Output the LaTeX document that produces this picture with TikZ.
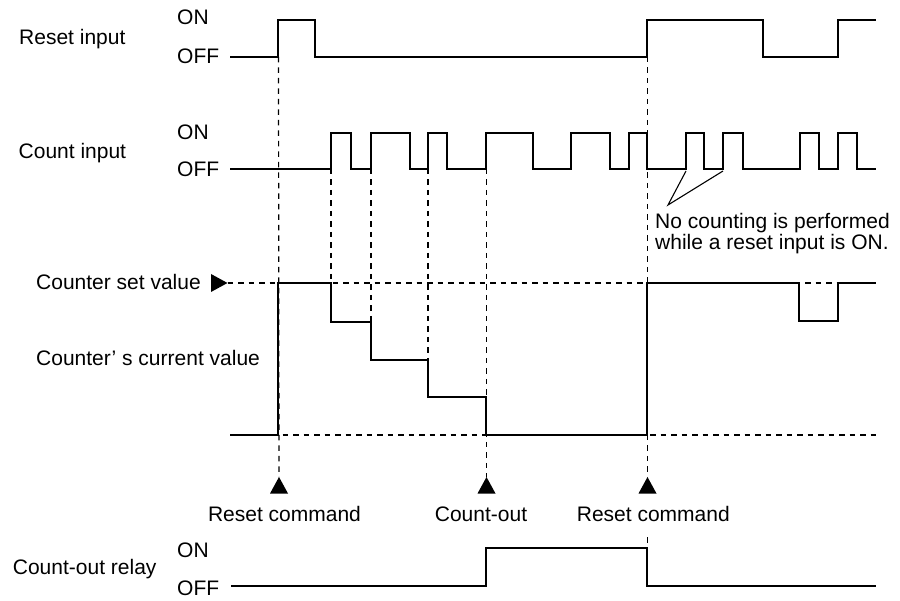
\documentclass[tikz,border=0pt]{standalone}
\usepackage{fontspec}
\setmainfont{Liberation Sans}
\begin{document}
\begin{tikzpicture}[x=1pt,y=-1pt,
  sig/.style={line width=2.7pt, line join=miter},
  guide/.style={line width=1.2pt, dash pattern=on 5.5pt off 5pt},
  thin/.style={line width=1.1pt},
  lbl/.style={anchor=base west, inner sep=0pt, font=\fontsize{21}{25}\selectfont},
  clbl/.style={anchor=base, inner sep=0pt, font=\fontsize{21}{25}\selectfont},
  trifill/.style={fill=black}
]
\useasboundingbox (0,0) rectangle (900,601);

% ---------- labels ----------
\node[lbl] (lreset) at (19,44.3) {Reset input};
\node[lbl] (lron)   at (177,25) {ON};
\node[lbl] (lroff)  at (177,63.5) {OFF};
\node[lbl] (lcount) at (18.5,158.5) {Count input};
\node[lbl] (lcon)   at (177,140) {ON};
\node[lbl] (lcoff)  at (177,176.7) {OFF};
\node[lbl] (lset)   at (36,289.8) {Counter set value};
\node[lbl] (lcur)   at (36,365.7) {Counter’ s current value};
\node[lbl] (lrelay) at (12.7,574.5) {Count-out relay};
\node[lbl] (lyon)   at (177,557.5) {ON};
\node[lbl] (lyoff)  at (177,595.3) {OFF};
\node[clbl] (rc1) at (284.5,521.5) {Reset command};
\node[clbl] (co)  at (481,521.5) {Count-out};
\node[clbl] (rc2) at (653.3,521.5) {Reset command};
\node[lbl] (note1) at (655,228.3) {No counting is performed};
\node[lbl] (note2) at (655,250) {while a reset input is ON.};

% ---------- triangles ----------
\coordinate (settip) at (227.5,283);
\fill[trifill] (211,274) -- (settip) -- (211,292) -- cycle;
\coordinate (t1) at (279,477);
\coordinate (t2) at (486.5,477);
\coordinate (t3) at (647.5,477);
\fill[trifill] (t1) -- ++(9,16.5) -- ++(-18,0) -- cycle;
\fill[trifill] (t2) -- ++(9,16.5) -- ++(-18,0) -- cycle;
\fill[trifill] (t3) -- ++(9,16.5) -- ++(-18,0) -- cycle;

% ---------- guide lines ----------
\draw[guide] (settip) -- (876,283);
\draw[guide] (230,435) -- (876,435);
\draw[guide] (278.5,57) -- (t1);
\draw[guide] (331,169) -- (331,283);
\draw[guide] (371,169) -- (371,322);
\draw[guide] (428,169) -- (428,360);
\draw[guide] (486.5,169) -- (t2);
\draw[guide] (647.5,57) -- (t3);
\draw[guide] (647.5,537) -- (647.5,548);

% ---------- callout ----------
\coordinate (ctip) at (668,205);
\draw[thin] (686,171) -- (ctip) -- (723,171);

% ---------- signals ----------
\draw[sig] (230,57) -- (278,57) -- (278,20) -- (315,20) -- (315,57) -- (647,57)
  -- (647,20) -- (763,20) -- (763,57) -- (838,57) -- (838,20) -- (876,20);

\draw[sig] (230,169) -- (331,169) -- (331,133) -- (351,133) -- (351,169)
  -- (371,169) -- (371,133) -- (410,133) -- (410,169) -- (428,169) -- (428,133)
  -- (447,133) -- (447,169) -- (486,169) -- (486,133) -- (533,133) -- (533,169)
  -- (571,169) -- (571,133) -- (610,133) -- (610,169) -- (629,169) -- (629,133)
  -- (647,133) -- (647,169) -- (686,169) -- (686,133) -- (704,133) -- (704,169)
  -- (723,169) -- (723,133) -- (743,133) -- (743,169) -- (800,169) -- (800,133)
  -- (819,133) -- (819,169) -- (838,169) -- (838,133) -- (857,133) -- (857,169)
  -- (876,169);

\draw[sig] (230,435) -- (278,435) -- (278,283) -- (331,283) -- (331,322)
  -- (371,322) -- (371,360) -- (428,360) -- (428,397) -- (486,397) -- (486,435)
  -- (647,435) -- (647,283) -- (799,283) -- (799,321) -- (838,321) -- (838,283)
  -- (876,283);

\draw[sig] (231,586) -- (486,586) -- (486,548) -- (647,548) -- (647,586) -- (876,586);
\end{tikzpicture}
\end{document}
